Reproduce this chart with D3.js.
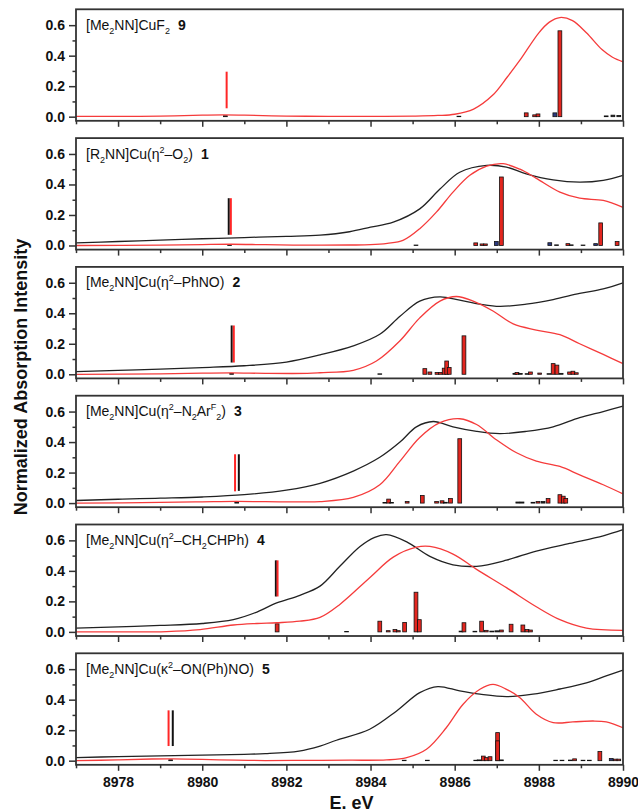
<!DOCTYPE html>
<html>
<head>
<meta charset="utf-8">
<script src="https://cdn.jsdelivr.net/npm/d3@7"></script>
<style>
  body { margin: 0; background: #fff; }
  text { font-family: Arial, "Liberation Sans", sans-serif; }
</style>
</head>
<body>
<svg id="viz"></svg>
<script>
let width = 638;
let height = 812;

// x domain and tick labels
let eMin = 8977, eMax = 8990;
let majorE = [8978, 8980, 8982, 8984, 8986, 8988, 8990];
let minorE = [8977, 8979, 8981, 8983, 8985, 8987, 8989];
let majorI = [0, 0.2, 0.4, 0.6];
let minorI = [0.1, 0.3, 0.5];

// panel labels: [text, kind]
let label9 = [["[Me", ""], ["2", "sub"], ["NN]CuF", ""], ["2", "sub"]];
let label1 = [["[R", ""], ["2", "sub"], ["NN]Cu(\u03b7", ""], ["2", "sup"], ["\u2013O", ""], ["2", "sub"], [")", ""]];
let label2 = [["[Me", ""], ["2", "sub"], ["NN]Cu(\u03b7", ""], ["2", "sup"], ["\u2013PhNO)", ""]];
let label3 = [["[Me", ""], ["2", "sub"], ["NN]Cu(\u03b7", ""], ["2", "sup"], ["\u2013N", ""], ["2", "sub"], ["Ar", ""], ["F", "sup"], ["2", "sub"], [")", ""]];
let label4 = [["[Me", ""], ["2", "sub"], ["NN]Cu(\u03b7", ""], ["2", "sup"], ["\u2013CH", ""], ["2", "sub"], ["CHPh)", ""]];
let label5 = [["[Me", ""], ["2", "sub"], ["NN]Cu(\u03ba", ""], ["2", "sup"], ["\u2013ON(Ph)NO)", ""]];
let numbers = ["9", "1", "2", "3", "4", "5"];

// experimental spectra (black), [eV, intensity]
let exp1 = [[8977,0.017],[8978,0.026],[8979,0.035],[8980,0.044],[8981,0.052],[8982,0.06],[8982.8,0.068],[8983.5,0.09],[8984,0.12],[8984.54,0.153],[8985.17,0.24],[8985.65,0.37],[8986.12,0.48],[8986.76,0.525],[8987.23,0.514],[8987.7,0.47],[8988.34,0.43],[8988.97,0.415],[8989.53,0.427],[8990,0.46]];
let exp2 = [[8977,0.018],[8978,0.026],[8979,0.034],[8980,0.044],[8981,0.056],[8982,0.08],[8982.8,0.127],[8983.59,0.186],[8984.22,0.262],[8984.7,0.38],[8985.17,0.48],[8985.65,0.508],[8986.12,0.486],[8986.6,0.46],[8987.07,0.445],[8987.7,0.46],[8988.34,0.49],[8988.97,0.53],[8989.53,0.56],[8990,0.60]];
let exp3 = [[8977,0.017],[8978,0.025],[8979,0.032],[8980,0.04],[8981,0.055],[8982,0.085],[8982.8,0.13],[8983.59,0.21],[8984.22,0.30],[8984.7,0.40],[8985.09,0.50],[8985.49,0.535],[8985.96,0.50],[8986.52,0.47],[8987.07,0.455],[8987.7,0.47],[8988.34,0.50],[8988.97,0.56],[8989.53,0.60],[8990,0.635]];
let exp4 = [[8977,0.024],[8978,0.033],[8979,0.042],[8980,0.055],[8980.74,0.08],[8981.3,0.13],[8981.77,0.19],[8982.32,0.24],[8982.8,0.30],[8983.27,0.43],[8983.75,0.56],[8984.1,0.62],[8984.38,0.637],[8984.86,0.59],[8985.41,0.495],[8985.96,0.44],[8986.52,0.43],[8987.23,0.47],[8987.94,0.53],[8988.73,0.58],[8989.53,0.63],[8990,0.67]];
let exp5 = [[8977,0.02],[8978,0.027],[8979,0.032],[8980,0.036],[8981,0.042],[8981.5,0.046],[8982.3,0.063],[8982.8,0.096],[8983.19,0.134],[8983.98,0.206],[8984.62,0.326],[8985.17,0.446],[8985.6,0.486],[8986.12,0.457],[8986.6,0.436],[8987.23,0.42],[8987.86,0.436],[8988.5,0.47],[8989.13,0.51],[8989.6,0.556],[8990,0.594]];

// calculated spectra (red)
let calc9 = [[8977,0.002],[8978,0.002],[8979,0.004],[8980,0.01],[8980.5,0.012],[8981,0.01],[8982,0.004],[8983,0.002],[8984,0.002],[8985,0.004],[8985.6,0.008],[8986,0.016],[8986.45,0.05],[8986.9,0.14],[8987.25,0.26],[8987.55,0.37],[8988,0.55],[8988.25,0.62],[8988.5,0.65],[8988.8,0.63],[8989.13,0.55],[8989.5,0.44],[8989.75,0.39],[8990,0.36]];
let calc1 = [[8977,0.0],[8979,0.002],[8980,0.006],[8980.7,0.008],[8981.5,0.005],[8982.5,0.002],[8983.5,0.003],[8984,0.005],[8984.4,0.014],[8984.77,0.033],[8985.17,0.11],[8985.57,0.22],[8985.96,0.35],[8986.36,0.46],[8986.76,0.52],[8987.15,0.536],[8987.55,0.50],[8987.94,0.44],[8988.5,0.35],[8988.97,0.31],[8989.53,0.295],[8990,0.25]];
let calc2 = [[8977,0.0],[8979,0.003],[8980,0.007],[8980.7,0.009],[8981.5,0.006],[8982.5,0.006],[8982.8,0.01],[8983.59,0.026],[8984.14,0.087],[8984.7,0.22],[8985.17,0.37],[8985.65,0.48],[8986.04,0.51],[8986.44,0.48],[8986.91,0.415],[8987.39,0.33],[8987.94,0.29],[8988.5,0.26],[8988.97,0.20],[8989.53,0.13],[8990,0.07]];
let calc3 = [[8977,0.0],[8979,0.004],[8980,0.008],[8980.8,0.011],[8981.5,0.009],[8982.3,0.008],[8982.8,0.01],[8983.59,0.037],[8984.22,0.12],[8984.7,0.275],[8985.17,0.43],[8985.65,0.527],[8986.12,0.553],[8986.52,0.515],[8986.99,0.415],[8987.47,0.33],[8987.94,0.275],[8988.5,0.24],[8988.97,0.185],[8989.53,0.12],[8990,0.06]];
let calc4 = [[8977,0.0],[8978,0.0],[8979.15,0.002],[8979.95,0.015],[8980.74,0.045],[8981.3,0.055],[8981.77,0.06],[8982.32,0.07],[8982.8,0.095],[8983.27,0.18],[8983.98,0.355],[8984.54,0.49],[8985.09,0.555],[8985.41,0.56],[8985.96,0.51],[8986.52,0.41],[8987.23,0.29],[8987.94,0.165],[8988.5,0.08],[8989.13,0.025],[8990,0.01]];
let calc5 = [[8977,0.0],[8978,0.005],[8978.8,0.011],[8979.3,0.012],[8980,0.009],[8980.8,0.003],[8981.5,0.001],[8982.5,0.002],[8983.5,0.003],[8984.38,0.005],[8984.86,0.02],[8985.33,0.075],[8985.8,0.216],[8986.2,0.37],[8986.6,0.468],[8986.91,0.5],[8987.23,0.468],[8987.55,0.413],[8987.94,0.305],[8988.34,0.25],[8988.81,0.254],[8989.29,0.26],[8989.6,0.254],[8990,0.216]];

// transition sticks: [eV, intensity, colour r/b/k]
let bars9 = [[8980.55,0.006,"k"],[8986.1,0.003,"k"],[8987.7,0.025,"r"],[8987.9,0.012,"r"],[8987.98,0.018,"r"],[8988.38,0.025,"b"],[8988.5,0.563,"r"],[8989.6,0.005,"k"],[8989.76,0.01,"k"],[8989.9,0.008,"k"]];
let bars1 = [[8980.65,0.006,"k"],[8985.08,0.003,"k"],[8986.5,0.017,"r"],[8986.65,0.01,"r"],[8986.73,0.01,"r"],[8986.99,0.026,"b"],[8987.11,0.449,"r"],[8988.26,0.018,"b"],[8988.42,0.004,"k"],[8988.69,0.012,"r"],[8988.77,0.004,"k"],[8989.05,0.003,"k"],[8989.35,0.012,"b"],[8989.47,0.148,"r"],[8989.86,0.026,"r"]];
let bars2 = [[8980.7,0.006,"k"],[8984.22,0.003,"k"],[8985.29,0.037,"r"],[8985.41,0.015,"r"],[8985.58,0.012,"r"],[8985.66,0.012,"r"],[8985.75,0.04,"r"],[8985.81,0.087,"r"],[8985.87,0.045,"r"],[8986.22,0.252,"r"],[8987.43,0.006,"k"],[8987.48,0.012,"r"],[8987.56,0.005,"k"],[8987.72,0.004,"k"],[8987.8,0.015,"r"],[8988.02,0.008,"r"],[8988.24,0.004,"k"],[8988.34,0.07,"r"],[8988.43,0.06,"r"],[8988.53,0.006,"k"],[8988.73,0.015,"r"],[8988.81,0.02,"r"],[8988.89,0.01,"r"]];
let bars3 = [[8980.82,0.006,"k"],[8984.34,0.004,"k"],[8984.43,0.026,"r"],[8984.5,0.004,"k"],[8984.87,0.01,"r"],[8985.23,0.05,"r"],[8985.57,0.01,"r"],[8985.7,0.015,"r"],[8985.78,0.005,"k"],[8985.9,0.03,"r"],[8986.12,0.422,"r"],[8987.5,0.007,"k"],[8987.6,0.007,"k"],[8987.86,0.005,"k"],[8987.98,0.01,"r"],[8988.1,0.01,"k"],[8988.22,0.03,"r"],[8988.5,0.055,"r"],[8988.58,0.045,"r"],[8988.64,0.03,"r"]];
let bars4 = [[8981.78,0.053,"r"],[8983.43,0.003,"k"],[8984.22,0.07,"r"],[8984.42,0.008,"r"],[8984.58,0.015,"r"],[8984.66,0.008,"r"],[8984.81,0.062,"r"],[8985.08,0.26,"r"],[8985.16,0.08,"r"],[8986.15,0.005,"k"],[8986.22,0.06,"r"],[8986.48,0.004,"k"],[8986.64,0.07,"r"],[8986.75,0.01,"r"],[8986.88,0.005,"k"],[8987.0,0.007,"k"],[8987.11,0.012,"r"],[8987.34,0.05,"r"],[8987.62,0.045,"r"],[8987.72,0.015,"r"],[8987.8,0.012,"r"]];
let bars5 = [[8979.25,0.006,"k"],[8984.8,0.003,"k"],[8985.35,0.003,"k"],[8986.5,0.003,"k"],[8986.58,0.005,"k"],[8986.68,0.03,"r"],[8986.75,0.02,"r"],[8986.84,0.026,"r"],[8987.02,0.184,"r"],[8987.02,0.13,"r"],[8987.11,0.005,"k"],[8988.4,0.003,"k"],[8988.55,0.003,"k"],[8988.75,0.004,"k"],[8988.85,0.012,"r"],[8989.05,0.003,"k"],[8989.2,0.003,"k"],[8989.45,0.06,"r"],[8989.72,0.014,"b"],[8989.82,0.01,"r"],[8989.9,0.01,"r"]];

// pre-edge markers: [eV, from, to, colour]
let pre9 = [[8980.58,0.055,0.295,"r"]];
let pre1 = [[8980.63,0.07,0.31,"k"],[8980.68,0.07,0.31,"r"]];
let pre2 = [[8980.70,0.077,0.32,"k"],[8980.75,0.077,0.32,"r"]];
let pre3 = [[8980.78,0.077,0.32,"r"],[8980.87,0.08,0.32,"k"]];
let pre4 = [[8981.75,0.232,0.469,"k"],[8981.79,0.232,0.469,"r"]];
let pre5 = [[8979.2,0.096,0.33,"r"],[8979.3,0.096,0.33,"k"]];

let panels = [
    {label: label9, exp: null, calc: calc9, bars: bars9, pre: pre9},
    {label: label1, exp: exp1, calc: calc1, bars: bars1, pre: pre1},
    {label: label2, exp: exp2, calc: calc2, bars: bars2, pre: pre2},
    {label: label3, exp: exp3, calc: calc3, bars: bars3, pre: pre3},
    {label: label4, exp: exp4, calc: calc4, bars: bars4, pre: pre4},
    {label: label5, exp: exp5, calc: calc5, bars: bars5, pre: pre5}
];

let left = 76, right = 623;
let firstTop = 9.3, pitch = 128.8, panelH = 111.5;
let barHalf = 0.045;

let barColor = {r: "#e3261f", b: "#2b3a80", k: "#222"};
let stickColor = {r: "#ff2626", k: "#111"};

let svg = d3.select("#viz")
    .attr("width", width)
    .attr("height", height);

let x = d3.scaleLinear()
    .domain([eMin, eMax])
    .range([left, right]);

panels.forEach(function(p, i) {
    let top = firstTop + i * pitch;
    let bottom = top + panelH;
    let y = d3.scaleLinear()
        .domain([-0.027, 0.704])
        .range([bottom, top]);

    let g = svg.append("g");

    let line = d3.line()
        .x((d) => x(d[0]))
        .y((d) => y(d[1]))
        .curve(d3.curveCatmullRom.alpha(0.5));

    // bars
    g.selectAll("rect.bar")
        .data(p.bars)
        .enter().append("rect")
        .attr("class", "bar")
        .attr("x", (d) => x(d[0] - barHalf))
        .attr("width", (d) => x(d[0] + barHalf) - x(d[0] - barHalf))
        .attr("y", (d) => y(d[1]))
        .attr("height", (d) => y(0) - y(d[1]))
        .style("fill", (d) => barColor[d[2]])
        .style("stroke", "#111")
        .style("stroke-width", 0.8);

    // pre-edge markers
    g.selectAll("line.pre")
        .data(p.pre)
        .enter().append("line")
        .attr("class", "pre")
        .attr("x1", (d) => x(d[0]))
        .attr("x2", (d) => x(d[0]))
        .attr("y1", (d) => y(d[1]))
        .attr("y2", (d) => y(d[2]))
        .style("stroke", (d) => stickColor[d[3]])
        .style("stroke-width", 2);

    if (p.exp) {
        g.append("path")
            .datum(p.exp)
            .attr("d", line)
            .style("fill", "none")
            .style("stroke", "#222")
            .style("stroke-width", 1.3);
    }
    g.append("path")
        .datum(p.calc)
        .attr("d", line)
        .style("fill", "none")
        .style("stroke", "#f53b3b")
        .style("stroke-width", 1.3);

    // axes
    let yAxis = g.append("g")
        .attr("transform", "translate(" + left + ",0)")
        .call(d3.axisLeft(y).tickValues(majorI).tickFormat(d3.format(".1f")).tickSize(7).tickPadding(4));
    let yMinor = g.append("g")
        .attr("transform", "translate(" + left + ",0)")
        .call(d3.axisLeft(y).tickValues(minorI).tickFormat("").tickSize(3.5));
    let xAxis = g.append("g")
        .attr("transform", "translate(0," + bottom + ")")
        .call(d3.axisBottom(x).tickValues(majorE).tickFormat(i == panels.length - 1 ? d3.format("d") : "").tickSize(6).tickPadding(6));
    let xMinor = g.append("g")
        .attr("transform", "translate(0," + bottom + ")")
        .call(d3.axisBottom(x).tickValues(minorE).tickFormat("").tickSize(3.5));

    [yAxis, yMinor, xAxis, xMinor].forEach(function(a) {
        a.select(".domain").remove();
        a.selectAll("line").style("stroke", "#333").style("stroke-width", 1.5);
        a.selectAll("text")
            .style("font-family", "Arial, 'Liberation Sans', sans-serif")
            .style("font-weight", "bold")
            .style("font-size", "14px")
            .style("fill", "#111");
    });

    g.append("rect")
        .attr("x", left)
        .attr("y", top)
        .attr("width", right - left)
        .attr("height", panelH)
        .style("fill", "none")
        .style("stroke", "#333")
        .style("stroke-width", 1.8);

    // panel label
    let t = g.append("text")
        .attr("x", left + 10)
        .attr("y", top + 20.5)
        .style("font-size", "14px")
        .style("fill", "#111");
    let shift = 0;
    p.label.forEach(function(seg) {
        let s = seg[1] == "sub" ? 4 : (seg[1] == "sup" ? -6 : 0);
        t.append("tspan")
            .attr("dy", s - shift)
            .style("font-size", seg[1] == "" ? "14px" : "9px")
            .text(seg[0]);
        shift = s;
    });
    t.append("tspan")
        .attr("dy", -shift)
        .attr("dx", 8)
        .style("font-weight", "bold")
        .text(numbers[i]);
});

svg.append("text")
    .attr("transform", "translate(27," + 377 + ") rotate(-90)")
    .attr("text-anchor", "middle")
    .style("font-weight", "bold")
    .style("font-size", "18px")
    .style("fill", "#111")
    .text("Normalized Absorption Intensity");

svg.append("text")
    .attr("x", (left + right) / 2 + 2)
    .attr("y", 809)
    .attr("text-anchor", "middle")
    .style("font-weight", "bold")
    .style("font-size", "18px")
    .style("fill", "#111")
    .text("E. eV");
</script>
</body>
</html>
